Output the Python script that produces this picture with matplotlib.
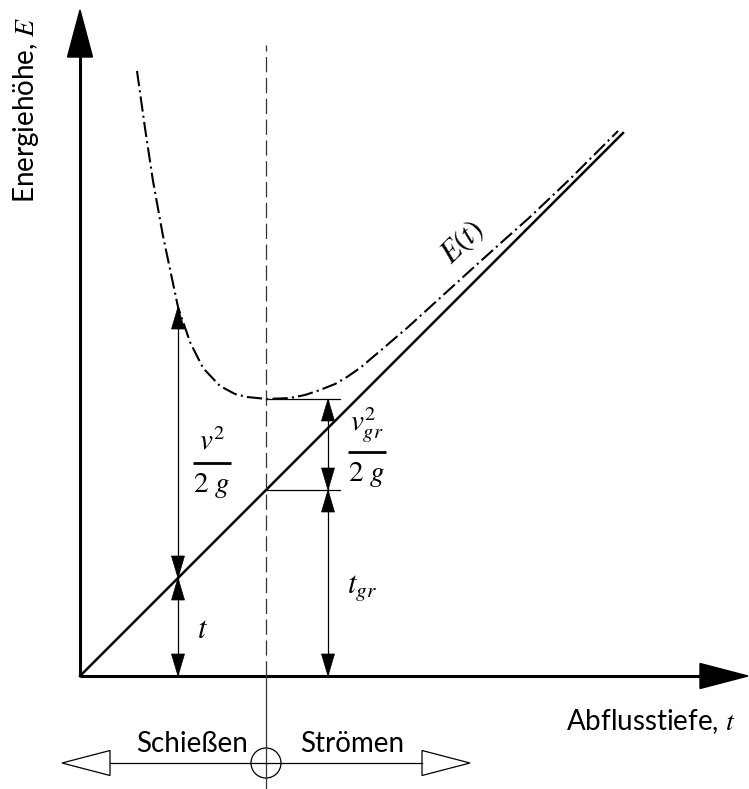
import numpy as np
import matplotlib
matplotlib.use("Agg")
import matplotlib.pyplot as plt
from matplotlib.patches import Polygon, Circle

plt.rcParams['mathtext.fontset'] = 'stix'
plt.rcParams['lines.scale_dashes'] = False
TEXT_FONT = ['Lato', 'DejaVu Sans']

# Specific energy curve E(t) (depth t, energy head E)
curve_t = [0.57, 0.65, 0.73, 0.83, 0.98, 1.10, 1.23, 1.40, 1.55, 1.67, 1.87,
           2.10, 2.25, 2.40, 2.55, 2.67, 2.80, 2.93, 3.27, 3.60, 3.93, 4.23,
           4.50, 4.90, 5.38]
curve_E = [6.05, 5.48, 4.95, 4.40, 3.69, 3.34, 3.08, 2.90, 2.82, 2.79, 2.77,
           2.78, 2.81, 2.86, 2.92, 2.99, 3.08, 3.19, 3.48, 3.78, 4.08, 4.35,
           4.59, 4.97, 5.45]

# Static part E = t
line_t = [0.0, 5.43]
line_E = [0.0, 5.43]

# Example depth and critical depth
t_ex = 0.98
E_ex = 3.69
t_gr = 1.86
E_gr = 2.77

# Axis extents
x_axis_end = 6.68
y_axis_end = 6.66
dash_top = 6.31
flow_y = -0.87
flow_left = -0.18
flow_right = 3.90

MATH_SIZE = 22
FRAC_SIZE = 21
TEXT_SIZE = 20

fig = plt.figure(figsize=(7.49, 7.89), dpi=100)
ax = fig.add_axes([0, 0, 1, 1])
ax.set_xlim(-0.80, 6.69)
ax.set_ylim(-1.13, 6.76)
ax.axis('off')


def solid_head(tip, direction, length, half_w, **kw):
    tip = np.asarray(tip, float)
    d = np.asarray(direction, float)
    d = d / np.linalg.norm(d)
    n = np.array([-d[1], d[0]])
    base = tip - d * length
    pts = [tip, base + n * half_w, base - n * half_w]
    ax.add_patch(Polygon(pts, closed=True, **kw))


def dim_arrow(x, y0, y1, lw=0.9):
    ax.plot([x, x], [y0, y1], color='black', lw=lw, solid_capstyle='butt')
    lo, hi = min(y0, y1), max(y0, y1)
    solid_head((x, hi), (0, 1), 0.22, 0.065, facecolor='black', edgecolor='black', lw=0.5)
    solid_head((x, lo), (0, -1), 0.22, 0.065, facecolor='black', edgecolor='black', lw=0.5)


# Axes with arrow heads
ax.plot([0, 0], [0, y_axis_end - 0.45], color='black', lw=2.2, solid_capstyle='butt')
ax.plot([0, x_axis_end - 0.45], [0, 0], color='black', lw=2.2, solid_capstyle='butt')
solid_head((0, y_axis_end), (0, 1), 0.47, 0.125, facecolor='black', edgecolor='black')
solid_head((x_axis_end, 0), (1, 0), 0.48, 0.125, facecolor='black', edgecolor='black')

# E = t line and the energy curve
ax.plot(line_t, line_E, color='black', lw=1.8)
ax.plot(curve_t, curve_E, color='black', lw=1.5,
        linestyle=(0, (11, 3, 1.5, 3)))

# Critical depth divider
ax.plot([t_gr, t_gr], [0, dash_top], color='#333333', lw=0.9,
        linestyle=(0, (11, 4)))
ax.plot([t_gr, t_gr], [flow_y - 0.26, 0], color='#333333', lw=0.9)

# Dimension arrows at the example depth
dim_arrow(t_ex, t_ex, E_ex)
dim_arrow(t_ex, 0, t_ex)

# Dimension arrows at critical depth
x_dim = 2.48
ax.plot([t_gr, 2.60], [E_gr, E_gr], color='black', lw=0.9)
ax.plot([t_gr, 2.60], [t_gr, t_gr], color='black', lw=0.9)
dim_arrow(x_dim, t_gr, E_gr)
dim_arrow(x_dim, 0, t_gr)


# Fraction labels
def fraction(xc, y_bar, num, den, half_len):
    ax.plot([xc - half_len, xc + half_len], [y_bar, y_bar], color='black', lw=2.0,
            solid_capstyle='butt')
    ax.text(xc, y_bar + 0.07, num, ha='center', va='bottom', fontsize=FRAC_SIZE)
    ax.text(xc, y_bar - 0.08, den, ha='center', va='top', fontsize=FRAC_SIZE)


fraction(1.32, 2.13, r'$v^2$', r'$2\ g$', 0.19)
fraction(2.87, 2.24, r'$v_{gr}^2$', r'$2\ g$', 0.19)

ax.text(1.23, 0.46, r'$t$', ha='center', va='center', fontsize=MATH_SIZE)
ax.text(2.82, 0.88, r'$t_{gr}$', ha='center', va='center', fontsize=MATH_SIZE)
ax.text(3.82, 4.34, r'$E(t)$', ha='center', va='center', fontsize=MATH_SIZE,
        rotation=45, rotation_mode='anchor')

# Axis titles
ax.text(-0.54, 5.66, r'Energiehöhe, $E$', rotation=90, ha='center', va='center',
        fontsize=TEXT_SIZE, family=TEXT_FONT)
ax.text(5.71, -0.46, r'Abflusstiefe, $t$', ha='center', va='center',
        fontsize=TEXT_SIZE, family=TEXT_FONT)

# Flow regime indicator
ax.plot([0.30, 3.42], [flow_y, flow_y], color='black', lw=0.9)
ax.add_patch(Polygon([(flow_left, flow_y), (0.30, flow_y + 0.125), (0.30, flow_y - 0.125)],
                     closed=True, facecolor='white', edgecolor='black', lw=0.9))
ax.add_patch(Polygon([(flow_right, flow_y), (3.42, flow_y + 0.125), (3.42, flow_y - 0.125)],
                     closed=True, facecolor='white', edgecolor='black', lw=0.9))
ax.add_patch(Circle((t_gr, flow_y), 0.15, facecolor='none', edgecolor='black', lw=0.9))
ax.text(1.12, -0.68, 'Schießen', ha='center', va='center', fontsize=TEXT_SIZE, family=TEXT_FONT)
ax.text(2.72, -0.68, 'Strömen', ha='center', va='center', fontsize=TEXT_SIZE, family=TEXT_FONT)

fig.savefig('out.png', dpi=100, facecolor='white')
